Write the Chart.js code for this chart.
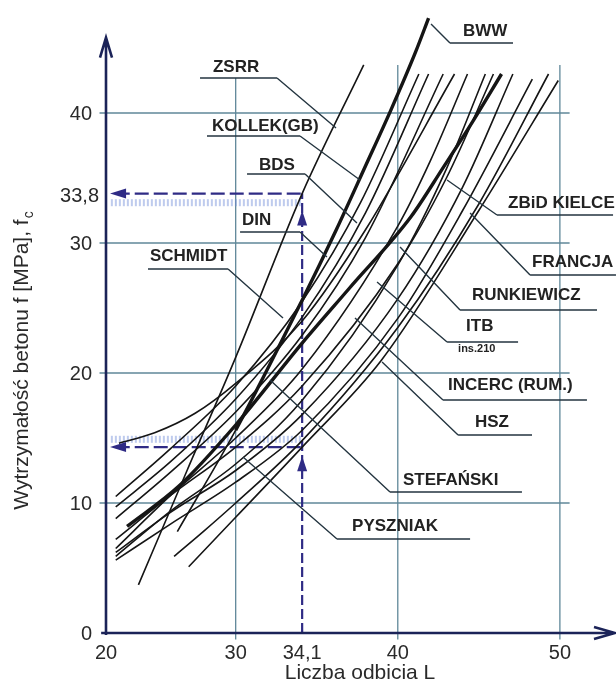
<!DOCTYPE html>
<html>
<head>
<meta charset="utf-8">
<script src="https://cdn.jsdelivr.net/npm/chart.js@4/dist/chart.umd.min.js"></script>
<style>
  html, body { margin: 0; padding: 0; background: #fff; }
</style>
</head>
<body>
<canvas id="chart" width="616" height="689"></canvas>
<script>
// axis ticks
const xTicks = [22, 30, 34.1, 40, 50];
const xTickLabels = ["20", "30", "34,1", "40", "50"];
const yTicks = [0, 10, 20, 30, 40];
const yTickLabels = ["0", "10", "20", "30", "40"];
const gridX = [30, 40, 50];
const gridY = [10, 20, 30, 40];

// reading example: L = 34,1 -> f from 14,3 to 33,8 MPa
const readL = 34.1;
const readHigh = 33.8;
const readLow = 14.3;

// curves [L, f]
const BWW = [[26.4, 7.8], [30, 15.6], [34.1, 25.6], [36.2, 31], [38, 35.9], [39.6, 40.3], [41.1, 44.7], [41.9, 47.3]];
const ZSRR = [[24, 3.7], [27, 12.5], [30, 21.2], [34.1, 33.8], [37.9, 43.7]];
const KOLLEK = [[22.6, 10.5], [26, 14.2], [30, 19], [34.1, 25.5], [37.7, 33.1], [41.3, 43]];
const BDS = [[22.6, 9.7], [26, 13.2], [30, 18], [34.1, 24.3], [38, 32.3], [41.9, 43]];
const SCHMIDT = [[22.8, 14.6], [25, 15.4], [27.5, 16.9], [30, 19.2], [34.1, 24], [38, 31], [43.5, 43]];
const DIN = [[22.6, 8.8], [26, 12.4], [30, 17], [34.1, 22.9], [38, 30.4], [42.8, 43]];
const RUNKIEWICZ = [[22.6, 6.5], [26, 10.6], [30, 15], [34.1, 20.3], [40, 31.3], [42, 36.3], [44.3, 43]];
const ITB = [[23.3, 8.2], [26.5, 11.3], [30, 16], [34.1, 22.3], [37, 26.5], [40.8, 32], [42.8, 35.8], [44.6, 39.3], [46.4, 43]];
const STEFANSKI = [[22.6, 5.9], [26, 9.4], [30, 13], [34.1, 17.9], [40, 28.3], [43, 35.7], [45.4, 43]];
const INCERC = [[22.6, 7.2], [26, 10.6], [30, 14.3], [34.1, 19], [40, 28.4], [43, 35], [45.9, 43]];
const ZBID = [[22.6, 6.2], [26, 9.3], [30, 12.5], [34.1, 16.8], [40, 25.7], [44, 34.3], [47.1, 43]];
const FRANCJA = [[26.2, 5.9], [28, 7.8], [30, 10], [34.1, 14.8], [40, 23.5], [45, 33], [49.3, 43]];
const HSZ = [[27.1, 5.1], [30, 8.9], [34.1, 14.3], [39, 21], [45, 32.5], [49.9, 42.5]];
const PYSZNIAK = [[22.6, 5.6], [26, 8.4], [30, 11.6], [34.1, 15.6], [40, 24.2], [44, 32.5], [48.3, 42.6]];

const curves = [
  { pts: ZSRR }, { pts: KOLLEK }, { pts: BDS }, { pts: SCHMIDT }, { pts: DIN },
  { pts: RUNKIEWICZ }, { pts: STEFANSKI }, { pts: INCERC }, { pts: ZBID },
  { pts: FRANCJA }, { pts: HSZ }, { pts: PYSZNIAK },
  { pts: ITB, thick: 0 }, { pts: BWW, thick: 14 }
];

// label layout (in axis units)
const leaders = [
  { text: "BWW", tx: 44.02, ty: 46.31, u: [43.22, 47.11], uy: 45.38, side: "l", e: [42.05, 46.85] },
  { text: "ZSRR", tx: 28.6, ty: 43.54, u: [27.8, 32.55], uy: 42.69, side: "r", e: [36.19, 38.85] },
  { text: "KOLLEK(GB)", tx: 28.54, ty: 39.0, u: [28.23, 33.97], uy: 38.23, side: "r", e: [37.67, 34.85] },
  { text: "BDS", tx: 31.44, ty: 36.0, u: [30.7, 34.28], uy: 35.31, side: "r", e: [37.48, 31.54] },
  { text: "DIN", tx: 30.39, ty: 31.77, u: [30.27, 33.97], uy: 30.85, side: "r", e: [35.63, 28.92] },
  { text: "SCHMIDT", tx: 24.71, ty: 29.0, u: [24.59, 29.53], uy: 28.0, side: "r", e: [32.92, 24.23] },
  { text: "ZBiD KIELCE", tx: 46.8, ty: 33.08, u: [46.12, 53.28], uy: 32.15, side: "l", e: [43.04, 34.85] },
  { text: "FRANCJA", tx: 48.28, ty: 28.54, u: [48.16, 53.46], uy: 27.54, side: "l", e: [44.46, 32.3] },
  { text: "RUNKIEWICZ", tx: 44.58, ty: 26.0, u: [43.84, 52.29], uy: 24.85, side: "l", e: [40.14, 29.69] },
  { text: "ITB", tx: 44.21, ty: 23.62, u: [43.04, 47.42], uy: 22.38, side: "l", e: [38.72, 27.0], sub: "ins.210", sx: 43.72, sy: 21.85 },
  { text: "INCERC (RUM.)", tx: 43.1, ty: 19.08, u: [42.79, 51.67], uy: 17.92, side: "l", e: [37.36, 24.23] },
  { text: "HSZ", tx: 44.76, ty: 16.23, u: [43.72, 48.28], uy: 15.23, side: "l", e: [39.03, 20.85] },
  { text: "STEFAŃSKI", tx: 40.32, ty: 11.77, u: [39.52, 47.66], uy: 10.85, side: "l", e: [32.12, 19.46] },
  { text: "PYSZNIAK", tx: 37.18, ty: 8.23, u: [36.25, 44.46], uy: 7.23, side: "l", e: [30.45, 13.54] }
];

const FONT = '"Liberation Sans", Arial, sans-serif';
const AXIS = "#1b2358";
const READ = "#2f2b85";

const datasets = curves.map((c) => ({
  data: c.pts.map((p) => ({ x: p[0], y: p[1] })),
  borderColor: "#151515",
  borderWidth: c.thick !== undefined ? 3.4 : 1.6,
  segment: c.thick !== undefined
    ? { borderWidth: (s) => (s.p0.parsed.y >= c.thick ? 3.4 : 1.6) }
    : undefined,
  pointRadius: 0,
  cubicInterpolationMode: "monotone",
  clip: false
}));

// hatched bands + dashed reading lines
[[readHigh - 0.7, readHigh], [readLow + 0.6, readLow]].forEach(([band, line]) => {
  datasets.push({
    data: [{ x: 22.3, y: band }, { x: readL, y: band }],
    borderColor: "rgba(110,140,215,0.45)", borderWidth: 7, borderDash: [2, 2],
    pointRadius: 0, clip: false
  });
  datasets.push({
    data: [{ x: 22.6, y: line }, { x: readL, y: line }],
    borderColor: READ, borderWidth: 2.4, borderDash: [14, 5],
    pointRadius: 0, clip: false
  });
});
datasets.push({
  data: [{ x: readL, y: 0 }, { x: readL, y: readHigh }],
  borderColor: READ, borderWidth: 2.2, borderDash: [10, 4],
  pointRadius: 0, clip: false
});

const decor = {
  id: "decor",
  beforeDatasetsDraw(chart) {
    const { ctx, scales: { x, y } } = chart;
    ctx.save();
    ctx.strokeStyle = "#5f8799";
    ctx.lineWidth = 1.3;
    const tops = [42.7, 43.7, 43.7];
    gridX.forEach((v, i) => {
      ctx.beginPath();
      ctx.moveTo(x.getPixelForValue(v), y.getPixelForValue(-0.5));
      ctx.lineTo(x.getPixelForValue(v), y.getPixelForValue(tops[i]));
      ctx.stroke();
    });
    gridY.forEach((v) => {
      ctx.beginPath();
      ctx.moveTo(x.getPixelForValue(21.6), y.getPixelForValue(v));
      ctx.lineTo(x.getPixelForValue(50.6), y.getPixelForValue(v));
      ctx.stroke();
    });
    ctx.restore();
  },
  afterDatasetsDraw(chart) {
    const { ctx, scales: { x, y } } = chart;
    const px = (v) => x.getPixelForValue(v);
    const py = (v) => y.getPixelForValue(v);
    ctx.save();

    // axes
    const x0 = px(22), y0 = py(0);
    ctx.strokeStyle = AXIS;
    ctx.lineWidth = 2.6;
    ctx.beginPath();
    ctx.moveTo(x0, y0 + 2);
    ctx.lineTo(x0, py(45.8));
    ctx.moveTo(x0 - 6, py(45.8) + 20);
    ctx.lineTo(x0, py(45.8));
    ctx.lineTo(x0 + 6, py(45.8) + 20);
    ctx.moveTo(px(21.7), y0);
    ctx.lineTo(615, y0);
    ctx.moveTo(594, y0 - 6);
    ctx.lineTo(615, y0);
    ctx.lineTo(594, y0 + 6);
    ctx.stroke();

    // reading arrowheads
    ctx.fillStyle = READ;
    const tri = (a, b, c) => {
      ctx.beginPath(); ctx.moveTo(a[0], a[1]); ctx.lineTo(b[0], b[1]); ctx.lineTo(c[0], c[1]); ctx.fill();
    };
    [readHigh, readLow].forEach((v) => {
      const tx = px(22.25), ty = py(v);
      tri([tx, ty], [tx + 16, ty - 5], [tx + 16, ty + 5]);
    });
    [readHigh - 1.3, readLow - 0.7].forEach((v) => {
      const tx = px(readL), ty = py(v);
      tri([tx, ty], [tx - 5, ty + 15], [tx + 5, ty + 15]);
    });

    // tick labels
    ctx.fillStyle = "#2a2a2a";
    ctx.font = "20px " + FONT;
    ctx.textAlign = "right";
    ctx.textBaseline = "middle";
    yTicks.forEach((v, i) => ctx.fillText(yTickLabels[i], 92, py(v) + 1));
    ctx.fillText("33,8", 99, py(readHigh) + 3);
    ctx.textAlign = "center";
    xTicks.forEach((v, i) => ctx.fillText(xTickLabels[i], px(v), 653));

    // axis titles
    ctx.font = "21px " + FONT;
    ctx.fillText("Liczba odbicia L", 360, 673);
    const main = "Wytrzymałość betonu f [MPa], f";
    ctx.save();
    ctx.translate(22, 361);
    ctx.rotate(-Math.PI / 2);
    const w1 = ctx.measureText(main).width;
    ctx.font = "14px " + FONT;
    const w2 = ctx.measureText("c").width;
    ctx.textAlign = "left";
    ctx.font = "21px " + FONT;
    ctx.fillText(main, -(w1 + w2) / 2, 0);
    ctx.font = "14px " + FONT;
    ctx.fillText("c", -(w1 + w2) / 2 + w1 + 1, 7);
    ctx.restore();

    // curve labels with leaders
    ctx.strokeStyle = "#243540";
    ctx.lineWidth = 1.4;
    ctx.textAlign = "left";
    leaders.forEach((l) => {
      const sx = l.side === "l" ? l.u[0] : l.u[1];
      ctx.beginPath();
      ctx.moveTo(px(l.u[0]), py(l.uy));
      ctx.lineTo(px(l.u[1]), py(l.uy));
      ctx.moveTo(px(sx), py(l.uy));
      ctx.lineTo(px(l.e[0]), py(l.e[1]));
      ctx.stroke();
      ctx.font = "bold 17px " + FONT;
      ctx.fillStyle = "#222";
      ctx.fillText(l.text, px(l.tx), py(l.ty));
      if (l.sub) {
        ctx.font = "bold 11px " + FONT;
        ctx.fillText(l.sub, px(l.sx), py(l.sy));
      }
    });
    ctx.restore();
  }
};

new Chart(document.getElementById("chart"), {
  type: "line",
  data: { datasets },
  options: {
    responsive: false,
    animation: false,
    events: [],
    layout: { padding: { left: 106, right: 1, top: 9, bottom: 56 } },
    plugins: { legend: { display: false }, tooltip: { enabled: false } },
    scales: {
      x: { type: "linear", min: 22, max: 53.4, display: false },
      y: { type: "linear", min: 0, max: 48, display: false }
    }
  },
  plugins: [decor]
});
</script>
</body>
</html>
